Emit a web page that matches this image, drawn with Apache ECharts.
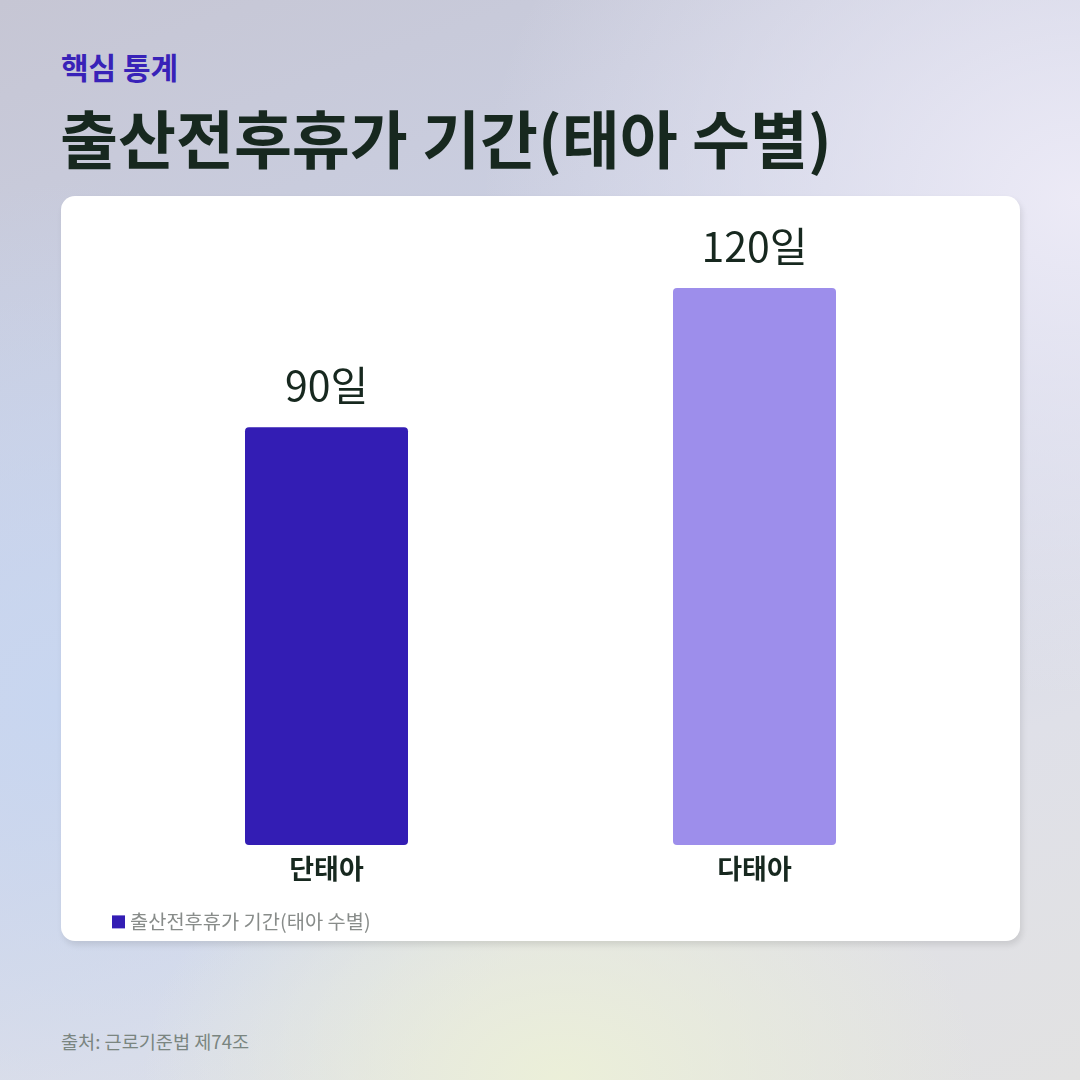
<!DOCTYPE html>
<html><head><meta charset="utf-8">
<script src="https://cdn.jsdelivr.net/npm/echarts@6/dist/echarts.min.js"></script>
<style>
html,body{margin:0;padding:0;width:1080px;height:1080px;overflow:hidden;font-family:"Noto Sans CJK KR","Noto Sans",sans-serif;}
#bg{position:absolute;left:0;top:0;width:1080px;height:1080px;
background:
radial-gradient(ellipse 420px 300px at 560px 1080px, rgba(236,240,216,0.95), rgba(236,240,216,0) 100%),
radial-gradient(ellipse 520px 520px at 60px 700px, rgba(200,214,240,1), rgba(200,214,240,0) 100%),
radial-gradient(ellipse 600px 500px at 1080px 200px, rgba(236,234,246,1), rgba(236,234,246,0) 100%),
linear-gradient(160deg, #c6c6d4 0%, #ccd2e6 40%, #dfe0e8 75%, #e2e2e2 100%);}
#card{position:absolute;left:61px;top:196px;width:959px;height:745px;background:#fff;border-radius:14px;box-shadow:2px 4px 6px rgba(0,0,0,0.10);}
#kicker{position:absolute;left:61px;top:51px;font-size:30px;font-weight:700;color:#3822b8;line-height:1;white-space:nowrap;}
#title{position:absolute;left:60px;top:104px;font-size:63px;font-weight:700;color:#17281f;line-height:1;white-space:nowrap;}
#source{position:absolute;left:61px;top:1032px;font-size:18.6px;color:#7a8580;line-height:1;white-space:nowrap;}
#chart{position:absolute;left:0;top:0;width:1080px;height:1080px;}
</style></head>
<body>
<div id="bg"></div>
<div id="card"></div>
<div id="kicker">핵심 통계</div>
<div id="title">출산전후휴가 기간(태아 수별)</div>
<div id="source">출처: 근로기준법 제74조</div>
<div id="chart"></div>
<script>
const categories = ["단태아", "다태아"];
const values = [90, 120];
const valueSuffix = "일";
const seriesName = "출산전후휴가 기간(태아 수별)";
const barColors = ["#331db4", "#9d8eeb"];

const chart = echarts.init(document.getElementById('chart'), null, {renderer:'canvas'});
chart.setOption({
  backgroundColor: 'transparent',
  animation: false,
  textStyle: {fontFamily: '"Noto Sans CJK KR","Noto Sans",sans-serif'},
  legend: {
    left: 107, top: 907, itemWidth: 13, itemHeight: 13, itemGap: 6,
    icon: 'rect',
    textStyle: {fontSize: 19.8, color: '#888c8a'},
    data: [{name: seriesName, itemStyle: {color: barColors[0]}}]
  },
  grid: {left: 112.5, right: 1080 - 968.5, top: 288, bottom: 1080 - 845},
  xAxis: {
    type: 'category', data: categories,
    axisLine: {show: false}, axisTick: {show: false},
    axisLabel: {fontSize: 27, fontWeight: 'bold', color: '#17281f', margin: 10}
  },
  yAxis: {type: 'value', min: 0, max: 120, show: false, splitLine: {show: false}},
  series: [{
    name: seriesName, type: 'bar', barWidth: 163,
    data: values.map((v, i) => ({value: v, itemStyle: {color: barColors[i]}})),
    itemStyle: {borderRadius: 4},
    label: {show: true, position: 'top', distance: 21, fontSize: 41, color: '#17281f',
      formatter: p => p.value + valueSuffix}
  }]
});
</script>
</body></html>
